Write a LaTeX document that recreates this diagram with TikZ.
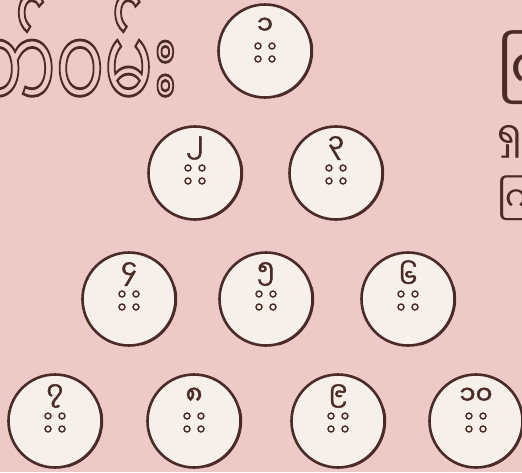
\documentclass[tikz,border=0pt]{standalone}
\usepackage{fontspec}
\newfontfamily\mmfont[Script=Myanmar]{Noto Sans Myanmar UI}
\newfontfamily\mmbold[Script=Myanmar,FakeBold=1.5]{Noto Sans Myanmar UI}
\usetikzlibrary{calc}
\definecolor{paper}{HTML}{EDC9C7}
\definecolor{cream}{HTML}{F5F0EA}
\definecolor{ink}{HTML}{4B2B27}
% hollow letters: paper fill, ink stroke
\newcommand{\hollow}[1]{\textcolor{paper}{\special{pdf:literal direct 0.294 0.169 0.153 RG 2.2 w 2 Tr}#1\special{pdf:literal direct 0 Tr}}}

\begin{document}
\begin{tikzpicture}[x=1pt,y=-1pt,
  pin/.style={circle,draw=ink,fill=cream,line width=2.6pt,minimum size=93pt,inner sep=0pt,outer sep=0pt},
  hole/.style={draw=ink,fill=cream,line width=1.4pt},
  numeral/.style={text=ink,inner sep=0pt,font=\mmbold\fontsize{26}{26}\selectfont}]
\fill[paper] (0,0) rectangle (522,472);
\useasboundingbox (0,0) rectangle (522,472);
\clip (0,0) rectangle (522,472);

% heading, outlined letters
\node[anchor=base east,inner sep=0pt,font=\mmfont\fontsize{90}{90}\selectfont]
  (title) at (178,112) {\scalebox{0.8}[1.25]{\hollow{တ်ဝမ်း}}};

% cut-off text on the right edge
\node[anchor=base west,inner sep=0pt,text=ink,font=\mmfont\fontsize{56}{56}\selectfont]
  (side1) at (497,89) {ကြ};
\node[anchor=base west,inner sep=0pt,text=ink,font=\mmfont\fontsize{36}{36}\selectfont]
  (side2) at (497,148) {ရှ};
\node[anchor=base west,inner sep=0pt,text=ink,font=\mmfont\fontsize{34}{34}\selectfont]
  (side3) at (497,211) {ကြ};

% the ten pins
\foreach \n/\x/\y/\d in {1/265/51/၁, 2/195/173/၂, 3/336/173/၃,
    4/129/299/၄, 5/266/299/၅, 6/408/299/၆,
    7/55/421/၇, 8/194/421/၈, 9/338/421/၉, 10/476/421/၁၀} {
  \node[pin] (p\n) at (\x,\y) {};
  \draw[ink,line width=1.4pt] ($(p\n)+(75:47.5)$) arc[start angle=75,end angle=-15,radius=47.5];
  \node[numeral] (n\n) at ($(p\n)+(0,-25)$) {\d};
  \foreach \dx/\dy in {-7/-5,7/-5,-7/8,7/8}
    \draw[hole] ($(p\n)+(\dx,\dy)$) circle[radius=3];
}
\end{tikzpicture}
\end{document}
